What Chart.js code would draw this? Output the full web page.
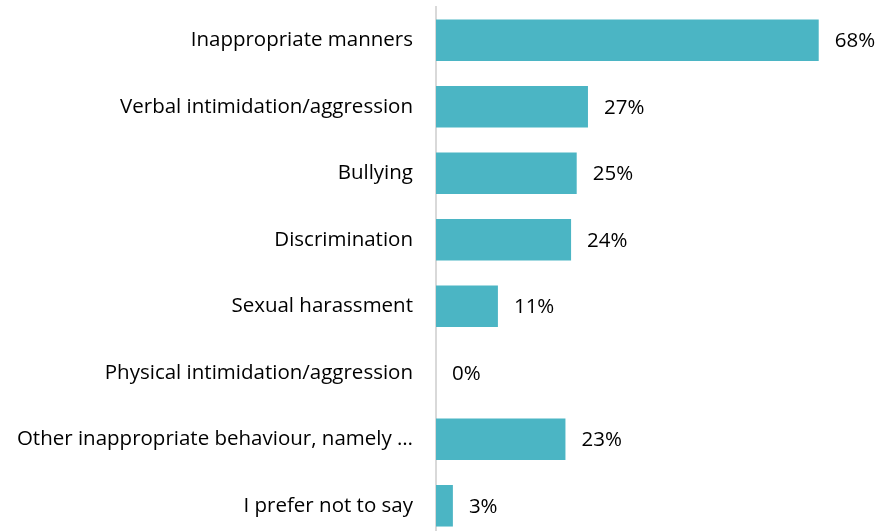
<!DOCTYPE html>
<html>
<head>
<meta charset="utf-8">
<script src="https://cdn.jsdelivr.net/npm/chart.js@4"></script>
<style>
  html, body { margin: 0; padding: 0; background: #ffffff; overflow: hidden; }
  #wrap { position: relative; width: 879px; height: 540px; }
</style>
</head>
<body>
<div id="wrap"><canvas id="c"></canvas></div>
<script>
const categories = [
  "Inappropriate manners",
  "Verbal intimidation/aggression",
  "Bullying",
  "Discrimination",
  "Sexual harassment",
  "Physical intimidation/aggression",
  "Other inappropriate behaviour, namely …",
  "I prefer not to say"
];
const values = [68, 27, 25, 24, 11, 0, 23, 3];
const valueLabels = ["68%", "27%", "25%", "24%", "11%", "0%", "23%", "3%"];

const FONT = "'Open Sans', Lato, sans-serif";
const FONT_SIZE = 20.5;

const labelPlugin = {
  id: "valueLabels",
  afterDatasetsDraw(chart) {
    const ctx = chart.ctx;
    const meta = chart.getDatasetMeta(0);
    ctx.save();
    ctx.font = FONT_SIZE + "px " + FONT;
    ctx.fillStyle = "#000000";
    ctx.textAlign = "left";
    ctx.textBaseline = "middle";
    meta.data.forEach((bar, i) => {
      ctx.fillText(valueLabels[i], bar.x + 16, bar.y + 1);
    });
    ctx.restore();
  }
};

new Chart(document.getElementById("c"), {
  type: "bar",
  data: {
    labels: categories,
    datasets: [{
      data: values,
      backgroundColor: "#4BB5C4",
      borderWidth: 0,
      barPercentage: 0.625,
      categoryPercentage: 1.0
    }]
  },
  options: {
    indexAxis: "y",
    responsive: true,
    maintainAspectRatio: false,
    animation: false,
    layout: { padding: { top: 7, bottom: 1, left: 0, right: 4 } },
    plugins: { legend: { display: false }, tooltip: { enabled: false } },
    scales: {
      x: { display: false, min: 0, max: 78 },
      y: {
        afterFit(scale) {
          scale.width = 436;
          scale.paddingTop = 0;
          scale.paddingBottom = 0;
        },
        grid: { display: false, drawTicks: false },
        border: { display: true, color: "#D9D9D9", width: 2 },
        ticks: {
          padding: 23,
          color: "#000000",
          font: { family: FONT, size: FONT_SIZE }
        }
      }
    }
  },
  plugins: [labelPlugin]
});
</script>
</body>
</html>
